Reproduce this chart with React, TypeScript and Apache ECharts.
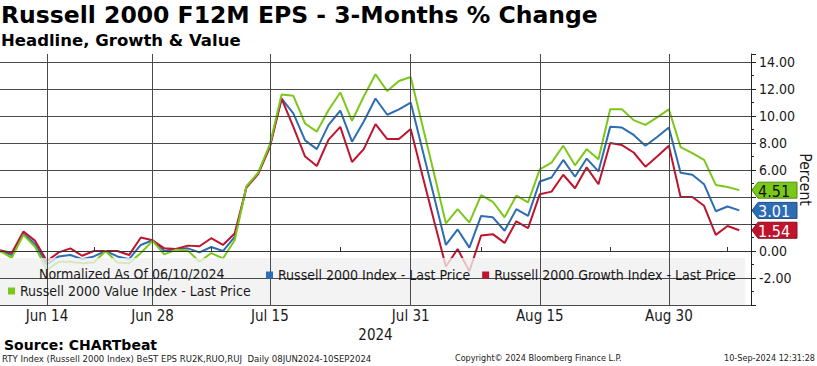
import React, { useEffect, useRef } from "react";
import * as echarts from "echarts";

// Trading days, 10 Jun 2024 - 10 Sep 2024 (plus one empty slot for right padding)
const dates = [
  "Jun 10", "Jun 11", "Jun 12", "Jun 13", "Jun 14", "Jun 17", "Jun 18", "Jun 20", "Jun 21", "Jun 24",
  "Jun 25", "Jun 26", "Jun 27", "Jun 28", "Jul 1", "Jul 2", "Jul 3", "Jul 5", "Jul 8", "Jul 9",
  "Jul 10", "Jul 11", "Jul 12", "Jul 15", "Jul 16", "Jul 17", "Jul 18", "Jul 19", "Jul 22", "Jul 23",
  "Jul 24", "Jul 25", "Jul 26", "Jul 29", "Jul 30", "Jul 31", "Aug 1", "Aug 2", "Aug 5", "Aug 6",
  "Aug 7", "Aug 8", "Aug 9", "Aug 12", "Aug 13", "Aug 14", "Aug 15", "Aug 16", "Aug 19", "Aug 20",
  "Aug 21", "Aug 22", "Aug 23", "Aug 26", "Aug 27", "Aug 28", "Aug 29", "Aug 30", "Sep 3", "Sep 4",
  "Sep 5", "Sep 6", "Sep 9", "Sep 10", ""
];

const indexValues = [
  0, -0.3, 1.3, 0.5, -1.0, -0.4, -0.3, -0.6, -0.4, 0, -0.4, -0.6, 0.45, 0.8, 0, 0.15, 0.2, -0.1, 0.3, 0, 1.05,
  4.75, 5.75, 7.8, 11.3, 10.2, 8.2, 7.55, 9.35, 10.4, 8.1, 9.6, 11.3, 10.1, 10.5, 11.0,
  7.5, 4.0, 0.45, 1.6, 0.25, 2.6, 2.5, 1.5, 3.1, 2.6,
  5.15, 5.45, 6.75, 5.5, 6.85, 5.9, 9.2, 9.15, 8.6, 7.8, 8.45, 9.15,
  5.8, 5.65, 4.95, 2.95, 3.3, 3.01
];

const growthValues = [
  0.05, -0.15, 1.45, 0.75, -0.75, -0.1, 0.2, -0.35, 0, 0, 0, -0.3, 1.0, 0.8, 0.2, 0.15, 0.4, 0.35, 0.95, 0.45, 1.3,
  4.7, 5.7, 7.7, 11.3, 9.2, 7.0, 6.3, 8.25, 9.2, 6.6, 7.55, 9.4, 8.3, 8.3, 9.05,
  5.6, 2.2, -1.15, 0.15, -1.5, 1.15, 1.25, 0.6, 2.2, 1.7,
  4.2, 4.4, 5.65, 4.65, 6.2, 4.95, 8.0, 7.85, 7.3, 6.25, 7.0, 7.8,
  4.0, 4.0, 3.35, 1.2, 1.85, 1.54
];

const valueValues = [
  0, -0.5, 1.2, 0.3, -1.4, -0.8, -0.8, -0.9, -0.85, 0, -0.85, -0.9, -0.15, 0.75, -0.25, 0.1, 0.05, -0.8, -0.15, -0.55, 0.8,
  4.8, 5.8, 7.9, 11.6, 11.5, 9.45, 8.85, 10.45, 11.75, 9.65, 11.45, 13.1, 11.85, 12.6, 12.9,
  9.3, 5.7, 2.05, 3.1, 2.1, 4.15, 3.65, 2.5, 4.1, 3.6,
  6.05, 6.55, 7.8, 6.35, 7.55, 6.8, 10.5, 10.5, 9.7, 9.35, 9.9, 10.5,
  7.7, 7.25, 6.75, 4.9, 4.75, 4.51
];

const labelIndices = [4, 13, 23, 35, 46, 57];
const minorTickIndices = [8, 18, 29, 41, 52, 62];
const yMin = -4;
const yMax = 14.6;
const yInterval = 2;

const seriesNames = [
  "Russell 2000 Index - Last Price",
  "Russell 2000 Growth Index - Last Price",
  "Russell 2000 Value Index - Last Price",
];

const BLUE = "#2c6db3";
const RED = "#c0142e";
const GREEN = "#7cc81a";

const FONT = "'DejaVu Sans Condensed', 'DejaVu Sans', sans-serif";
const WIDE = "'DejaVu Sans', Verdana, sans-serif";

export default function App() {
  const ref = useRef<HTMLDivElement>(null);

  useEffect(() => {
    if (!ref.current) return;
    const chart = echarts.init(ref.current, null, { renderer: "svg" });

    const seriesDefs = [
      { name: seriesNames[0], data: indexValues, color: BLUE, stroke: "#1d4f86", text: "#ffffff" },
      { name: seriesNames[1], data: growthValues, color: RED, stroke: "#8a0c1f", text: "#ffffff" },
      { name: seriesNames[2], data: valueValues, color: GREEN, stroke: "#4f8a0a", text: "#111111" },
    ];
    const lastValues = seriesDefs.map((s) => s.data[s.data.length - 1]);

    const legendText = { fontSize: 14, fontFamily: FONT, color: "#1a1a1a" };

    const option: any = {
      animation: false,
      backgroundColor: "#ffffff",
      title: {
        text: "Russell 2000 F12M EPS - 3-Months % Change",
        subtext: "Headline, Growth & Value",
        left: 1,
        top: 3,
        padding: 0,
        itemGap: 5,
        textStyle: { fontSize: 23.5, fontWeight: "bold", fontFamily: WIDE, color: "#000" },
        subtextStyle: { fontSize: 16.5, fontWeight: "bold", fontFamily: WIDE, color: "#000" },
      },
      legend: [
        {
          data: [seriesNames[0], seriesNames[1]],
          left: 266,
          top: 268,
          padding: 0,
          icon: "rect",
          itemWidth: 7,
          itemHeight: 7,
          itemGap: 12,
          selectedMode: false,
          textStyle: legendText,
          z: 6,
        },
        {
          data: [seriesNames[2]],
          left: 8,
          top: 284,
          padding: 0,
          icon: "rect",
          itemWidth: 7,
          itemHeight: 7,
          selectedMode: false,
          textStyle: legendText,
          z: 6,
        },
      ],
      grid: { left: 0, right: 66, top: 54, bottom: 61, containLabel: false, outerBoundsMode: "none" },
      xAxis: {
        type: "category",
        data: dates,
        boundaryGap: false,
        max: 64.45,
        z: 4,
        name: "2024",
        nameLocation: "middle",
        nameGap: 19,
        nameTextStyle: { fontSize: 15, fontFamily: FONT, color: "#1a1a1a" },
        axisLine: { show: true, lineStyle: { color: "#333", width: 1 } },
        axisTick: {
          show: true,
          inside: true,
          length: 4,
          interval: (i: number) => minorTickIndices.includes(i),
          lineStyle: { color: "#333" },
        },
        axisLabel: {
          interval: (i: number) => labelIndices.includes(i),
          fontSize: 15,
          fontFamily: FONT,
          color: "#1a1a1a",
          margin: 3,
        },
        splitLine: {
          show: true,
          interval: (i: number) => labelIndices.includes(i),
          lineStyle: { color: "#4a4a4a", width: 1 },
        },
      },
      yAxis: {
        type: "value",
        position: "right",
        min: yMin,
        max: yMax,
        interval: yInterval,
        z: 4,
        name: "Percent",
        nameLocation: "middle",
        nameRotate: -90,
        nameGap: 46,
        nameMoveOverlap: false,
        nameTextStyle: { fontSize: 15.5, fontFamily: FONT, color: "#1a1a1a" },
        axisLine: { show: true, lineStyle: { color: "#222", width: 1 } },
        axisTick: { show: true, length: 5, lineStyle: { color: "#222" } },
        minorTick: { show: true, splitNumber: 2, length: 3, lineStyle: { color: "#222" } },
        axisLabel: {
          showMinLabel: false,
          showMaxLabel: false,
          fontSize: 14,
          fontFamily: FONT,
          color: "#1a1a1a",
          margin: 8,
          formatter: (v: number) => {
            if (v === yMin || v === yMax) return "";
            // labels hidden behind the last-value tags
            if (lastValues.some((lv) => Math.abs(lv - v) < 0.7)) return "";
            return v.toFixed(2);
          },
        },
        splitLine: {
          show: true,
          showMaxLine: false,
          lineStyle: { color: "#4a4a4a", width: 1 },
        },
      },
      series: seriesDefs.map((s) => ({
        name: s.name,
        type: "line",
        data: s.data,
        showSymbol: false,
        symbol: "none",
        color: s.color,
        itemStyle: { color: s.color },
        lineStyle: { color: s.color, width: 2 },
        z: 2,
      })),
    };

    chart.setOption(option);

    const tagRight = 797;
    const tagTip = 752;
    const tags = seriesDefs.map((s) => {
      const v = s.data[s.data.length - 1];
      const cy = chart.convertToPixel({ yAxisIndex: 0 }, v) as number;
      return {
        type: "group",
        z: 10,
        children: [
          {
            type: "polygon",
            z: 10,
            shape: {
              points: [
                [tagTip, cy],
                [tagTip + 6, cy - 8],
                [tagRight, cy - 8],
                [tagRight, cy + 8],
                [tagTip + 6, cy + 8],
              ],
            },
            style: { fill: s.color, stroke: s.stroke, lineWidth: 1 },
          },
          {
            type: "text",
            z: 11,
            style: {
              text: v.toFixed(2),
              x: 758,
              y: cy + 1,
              verticalAlign: "middle",
              align: "left",
              fill: s.text,
              fontSize: 16,
              fontFamily: FONT,
            },
          },
        ],
      };
    });

    const graphics: any[] = [
      {
        type: "rect",
        z: 3,
        shape: { x: 0, y: 258, width: 745, height: 47 },
        style: { fill: "rgba(240,240,240,0.78)" },
      },
      {
        type: "text",
        z: 6,
        style: {
          text: "Normalized As Of 06/10/2024",
          x: 39,
          y: 274,
          verticalAlign: "middle",
          fill: "#1a1a1a",
          fontSize: 14,
          fontFamily: FONT,
        },
      },
      {
        type: "text",
        style: {
          text: "Source: CHARTbeat",
          x: 4,
          y: 345,
          verticalAlign: "middle",
          fill: "#000",
          fontSize: 14,
          fontWeight: "bold",
          fontFamily: WIDE,
        },
      },
      {
        type: "text",
        style: {
          text: "RTY Index (Russell 2000 Index) BeST EPS RU2K,RUO,RUJ  Daily 08JUN2024-10SEP2024",
          x: 2,
          y: 358,
          verticalAlign: "middle",
          fill: "#222",
          fontSize: 9.5,
          fontFamily: FONT,
        },
      },
      {
        type: "text",
        style: {
          text: "Copyright\u00A9 2024 Bloomberg Finance L.P.",
          x: 455,
          y: 358,
          verticalAlign: "middle",
          fill: "#222",
          fontSize: 9,
          fontFamily: FONT,
        },
      },
      {
        type: "text",
        style: {
          text: "10-Sep-2024 12:31:28",
          x: 815,
          y: 358,
          align: "right",
          verticalAlign: "middle",
          fill: "#222",
          fontSize: 9,
          fontFamily: FONT,
        },
      },
      ...tags,
    ];

    chart.setOption({ graphic: graphics });

    return () => chart.dispose();
  }, []);

  return (
    <div
      ref={ref}
      style={{ position: "fixed", left: 0, top: 0, width: 817, height: 366 }}
    />
  );
}
